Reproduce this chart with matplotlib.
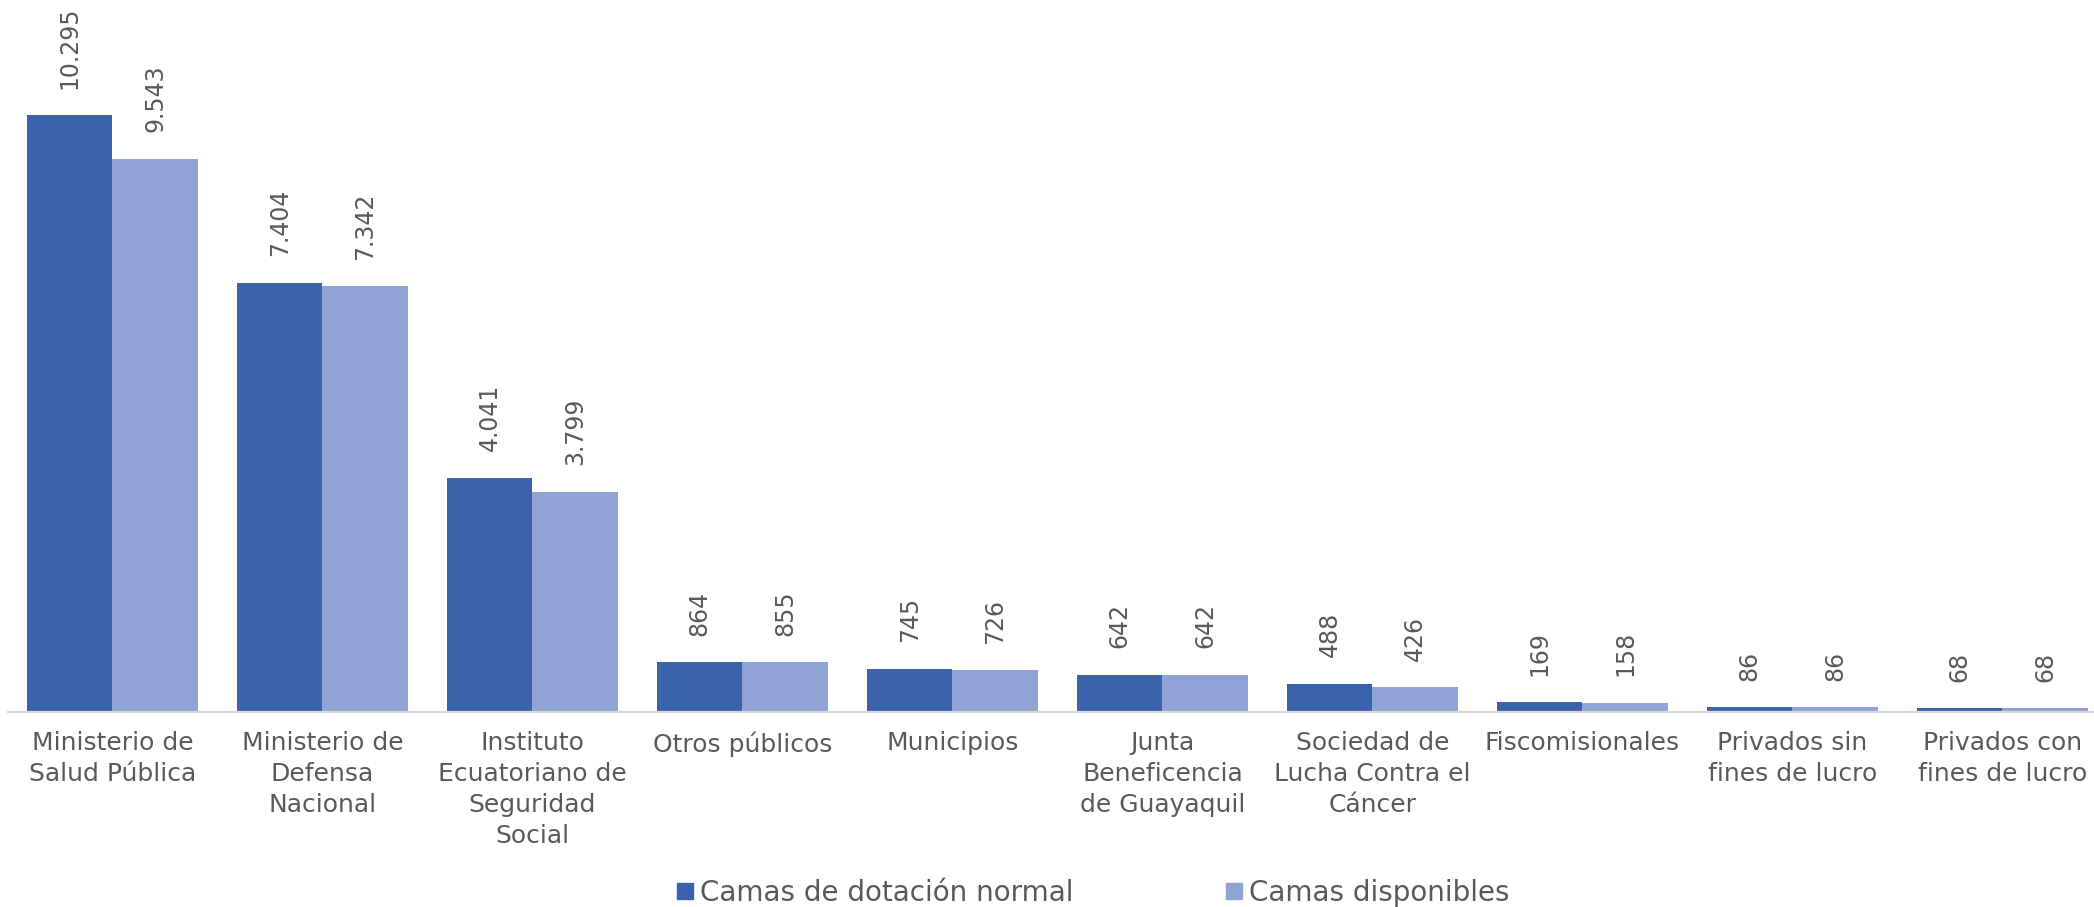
import matplotlib
matplotlib.use("Agg")
import matplotlib.pyplot as plt
from matplotlib.patches import Patch
import numpy as np

categorias = [
    "Ministerio de\nSalud Pública",
    "Ministerio de\nDefensa\nNacional",
    "Instituto\nEcuatoriano de\nSeguridad\nSocial",
    "Otros públicos",
    "Municipios",
    "Junta\nBeneficencia\nde Guayaquil",
    "Sociedad de\nLucha Contra el\nCáncer",
    "Fiscomisionales",
    "Privados sin\nfines de lucro",
    "Privados con\nfines de lucro",
]
dotacion_normal = [10295, 7404, 4041, 864, 745, 642, 488, 169, 86, 68]
disponibles = [9543, 7342, 3799, 855, 726, 642, 426, 158, 86, 68]
series = ["Camas de dotación normal", "Camas disponibles"]

c_oscuro = "#3B63AC"
c_claro = "#8FA4D4"
gris = "#595959"

plt.rcParams['font.family'] = ['DejaVu Sans']

W, H = 2094, 907
fig = plt.figure(figsize=(W / 100, H / 100), dpi=100)
ax = fig.add_axes([7.5 / W, (H - 712) / H, (W - 7.5) / W, 712 / H])

x = np.arange(len(categorias))
w = 0.407
b1 = ax.bar(x - w / 2, dotacion_normal, w, color=c_oscuro)
b2 = ax.bar(x + w / 2, disponibles, w, color=c_claro)


def fmt(v):
    return f"{v:,}".replace(",", ".")


for bars, vals in ((b1, dotacion_normal), (b2, disponibles)):
    for r, v in zip(bars, vals):
        ax.annotate(fmt(v), (r.get_x() + r.get_width() / 2, r.get_height()),
                    xytext=(0, 19), textcoords="offset points",
                    rotation=90, ha="center", va="bottom",
                    fontsize=17, color=gris)

ax.set_xlim(-0.5, 9.436)
ax.set_ylim(0, 12280)
ax.set_xticks(x)
ax.set_xticklabels(categorias, fontsize=18, color=gris, linespacing=1.36)
ax.tick_params(axis="x", length=0, pad=14)
ax.set_yticks([])
for s in ("top", "right", "left"):
    ax.spines[s].set_visible(False)
ax.spines["bottom"].set_color("#D9D9D9")
ax.spines["bottom"].set_linewidth(1.6)

handles = [Patch(color=c_oscuro), Patch(color=c_claro)]
fig.legend(handles, series, loc="center",
           bbox_to_anchor=(1093 / W, 1 - 893 / H),
           ncol=2, frameon=False, fontsize=20, labelcolor=gris,
           handlelength=0.58, handleheight=0.54, handletextpad=0.25,
           columnspacing=5.5, borderpad=0, borderaxespad=0)

fig.savefig("out.png", dpi=100)
